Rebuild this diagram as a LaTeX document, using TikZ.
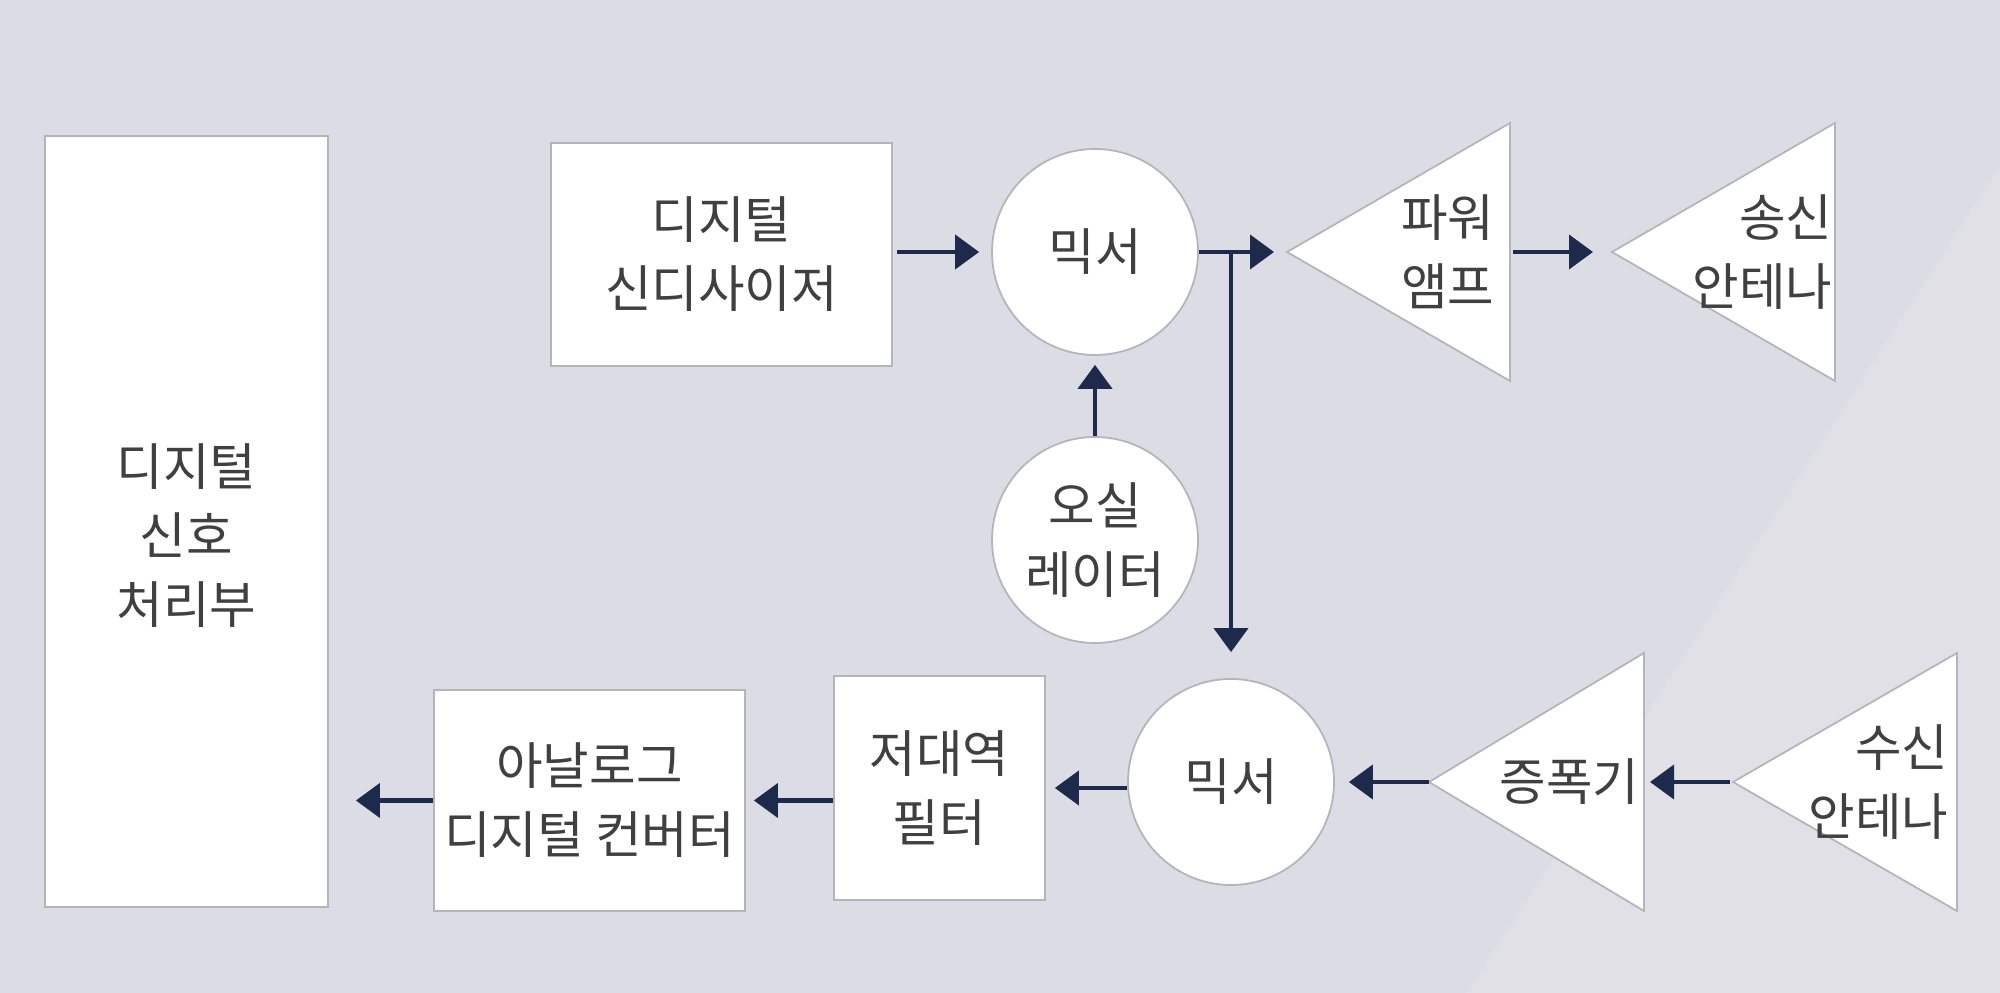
\documentclass[tikz,border=0pt]{standalone}
\usepackage{fontspec}
\setmainfont{Noto Sans CJK KR}
\usetikzlibrary{arrows.meta}
\definecolor{bgcol}{HTML}{DCDCE4}
\definecolor{bandcol}{HTML}{E0E0E6}
\definecolor{edgecol}{HTML}{B4B4BC}
\definecolor{navy}{HTML}{1E2A4C}
\definecolor{ink}{HTML}{404040}
\tikzset{
  block/.style={draw=edgecol,line width=0.5pt,fill=white,inner sep=0pt},
  box/.style={block,rectangle},
  disc/.style={block,circle,minimum size=2.06cm},
  tri/.style={draw=edgecol,line width=0.5pt,fill=white},
  txt/.style={align=center,inner sep=0pt,text=ink,font=\fontsize{14.4pt}{19.6pt}\selectfont},
  arr/.style={draw=navy,line width=1.15pt,-{Triangle[length=2.4mm,width=3.4mm]}},
}
\begin{document}
\begin{tikzpicture}
\fill[bgcol] (0,0) rectangle (20,9.93);
\fill[bandcol] (14.67,0) -- (20,8.27) -- (20,0) -- cycle;
\useasboundingbox (0,0) rectangle (20,9.93);
% blocks
\node[box,minimum width=2.83cm,minimum height=7.71cm] (dsp) at (1.865,4.715) {};
\node[txt] (dsp-txt) at ([yshift=-0.14cm]dsp.center) {디지털\\신호\\처리부};
\node[box,txt,minimum width=3.41cm,minimum height=2.23cm] (synth) at (7.215,7.385) {디지털\\신디사이저};
\node[disc,txt] (mixtx) at (10.95,7.41) {믹서};
\node[disc,txt] (osc) at (10.95,4.53) {오실\\레이터};
\node[disc,txt] (mixrx) at (12.31,2.11) {믹서};
\node[box,txt,minimum width=2.11cm,minimum height=2.24cm] (lpf) at (9.395,2.05) {저대역\\필터};
\node[box,txt,minimum width=3.11cm,minimum height=2.21cm] (adc) at (5.895,1.925) {아날로그\\디지털 컨버터};
% triangles
\foreach \n/\a/\b/\y in {pa/12.87/15.10/7.41, ant/16.12/18.35/7.41, amp/14.29/16.44/2.11, rx/17.33/19.57/2.11}
  \draw[tri] (\a,\y) coordinate (\n-tip) -- (\b,\y+1.29) -- (\b,\y-1.29) -- cycle
    (\b,\y) coordinate (\n-base);
\node[txt,anchor=east,align=right] (pa-txt) at ([xshift=-0.15cm]pa-base) {파워\\앰프};
\node[txt,anchor=east,align=right] (ant-txt) at ([xshift=-0.02cm]ant-base) {송신\\안테나};
\node[txt,anchor=east] (amp-txt) at ([xshift=-0.04cm]amp-base) {증폭기};
\node[txt,anchor=east,align=right] (rx-txt) at ([xshift=-0.08cm]rx-base) {수신\\안테나};
% connectors
\coordinate (split) at (mixtx.east -| mixrx.north);
\draw[arr,shorten >=0.12cm,shorten <=0.04cm] (synth.east |- mixtx.west) -- (mixtx.west);
\draw[arr,shorten >=0.09cm] (osc.north) -- (mixtx.south);
\draw[arr,shorten >=0.13cm] (mixtx.east) -- (pa-tip);
\draw[arr,shorten >=0.26cm] (split) -- (mixrx.north);
\draw[arr,shorten >=0.19cm,shorten <=0.03cm] (pa-base) -- (ant-tip);
\draw[arr,shorten >=0.06cm,shorten <=0.03cm] (rx-tip) -- (amp-base);
\draw[arr,shorten >=0.14cm] (amp-tip) -- (mixrx.east);
\draw[arr,shorten >=0.09cm] (mixrx.west |- lpf.east) -- (lpf.east);
\draw[arr,shorten >=0.08cm] (lpf.west |- adc.east) -- (adc.east);
\draw[arr,shorten >=0.27cm] (adc.west) -- (adc.west -| dsp.east);
\end{tikzpicture}
\end{document}
